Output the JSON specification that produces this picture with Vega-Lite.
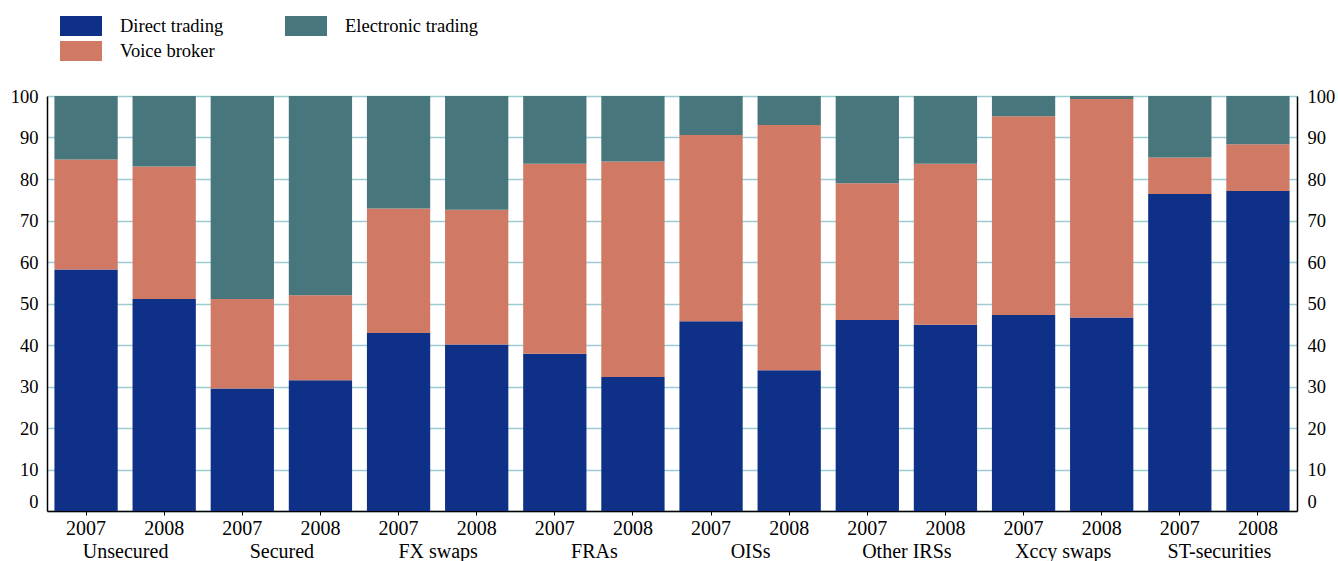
{
  "$schema": "https://vega.github.io/schema/vega-lite/v6.json",
  "width": 1250,
  "height": 415,
  "autosize": {"type": "none"},
  "padding": {"left": 47, "top": 96, "right": 41, "bottom": 50},
  "background": "white",
  "config": {
    "view": {"stroke": null},
    "font": "Liberation Serif",
    "axis": {"labelFont": "Liberation Serif", "labelColor": "black", "titleFont": "Liberation Serif"},
    "legend": {"labelFont": "Liberation Serif", "labelColor": "black"}
  },
  "data": {
    "values": [
      {"g": "Unsecured", "bar": "Unsecured 2007", "t": "Direct trading", "v": 58.2},
      {"g": "Unsecured", "bar": "Unsecured 2007", "t": "Voice broker", "v": 26.5},
      {"g": "Unsecured", "bar": "Unsecured 2007", "t": "Electronic trading", "v": 15.3},
      {"g": "Unsecured", "bar": "Unsecured 2008", "t": "Direct trading", "v": 51.1},
      {"g": "Unsecured", "bar": "Unsecured 2008", "t": "Voice broker", "v": 31.9},
      {"g": "Unsecured", "bar": "Unsecured 2008", "t": "Electronic trading", "v": 17.0},
      {"g": "Secured", "bar": "Secured 2007", "t": "Direct trading", "v": 29.5},
      {"g": "Secured", "bar": "Secured 2007", "t": "Voice broker", "v": 21.6},
      {"g": "Secured", "bar": "Secured 2007", "t": "Electronic trading", "v": 48.9},
      {"g": "Secured", "bar": "Secured 2008", "t": "Direct trading", "v": 31.5},
      {"g": "Secured", "bar": "Secured 2008", "t": "Voice broker", "v": 20.5},
      {"g": "Secured", "bar": "Secured 2008", "t": "Electronic trading", "v": 48.0},
      {"g": "FX swaps", "bar": "FX swaps 2007", "t": "Direct trading", "v": 42.9},
      {"g": "FX swaps", "bar": "FX swaps 2007", "t": "Voice broker", "v": 30.0},
      {"g": "FX swaps", "bar": "FX swaps 2007", "t": "Electronic trading", "v": 27.1},
      {"g": "FX swaps", "bar": "FX swaps 2008", "t": "Direct trading", "v": 40.1},
      {"g": "FX swaps", "bar": "FX swaps 2008", "t": "Voice broker", "v": 32.5},
      {"g": "FX swaps", "bar": "FX swaps 2008", "t": "Electronic trading", "v": 27.4},
      {"g": "FRAs", "bar": "FRAs 2007", "t": "Direct trading", "v": 37.9},
      {"g": "FRAs", "bar": "FRAs 2007", "t": "Voice broker", "v": 45.8},
      {"g": "FRAs", "bar": "FRAs 2007", "t": "Electronic trading", "v": 16.3},
      {"g": "FRAs", "bar": "FRAs 2008", "t": "Direct trading", "v": 32.3},
      {"g": "FRAs", "bar": "FRAs 2008", "t": "Voice broker", "v": 51.9},
      {"g": "FRAs", "bar": "FRAs 2008", "t": "Electronic trading", "v": 15.8},
      {"g": "OISs", "bar": "OISs 2007", "t": "Direct trading", "v": 45.7},
      {"g": "OISs", "bar": "OISs 2007", "t": "Voice broker", "v": 44.9},
      {"g": "OISs", "bar": "OISs 2007", "t": "Electronic trading", "v": 9.4},
      {"g": "OISs", "bar": "OISs 2008", "t": "Direct trading", "v": 33.9},
      {"g": "OISs", "bar": "OISs 2008", "t": "Voice broker", "v": 59.1},
      {"g": "OISs", "bar": "OISs 2008", "t": "Electronic trading", "v": 7.0},
      {"g": "Other IRSs", "bar": "Other IRSs 2007", "t": "Direct trading", "v": 46.0},
      {"g": "Other IRSs", "bar": "Other IRSs 2007", "t": "Voice broker", "v": 33.0},
      {"g": "Other IRSs", "bar": "Other IRSs 2007", "t": "Electronic trading", "v": 21.0},
      {"g": "Other IRSs", "bar": "Other IRSs 2008", "t": "Direct trading", "v": 44.9},
      {"g": "Other IRSs", "bar": "Other IRSs 2008", "t": "Voice broker", "v": 38.8},
      {"g": "Other IRSs", "bar": "Other IRSs 2008", "t": "Electronic trading", "v": 16.3},
      {"g": "Xccy swaps", "bar": "Xccy swaps 2007", "t": "Direct trading", "v": 47.2},
      {"g": "Xccy swaps", "bar": "Xccy swaps 2007", "t": "Voice broker", "v": 47.9},
      {"g": "Xccy swaps", "bar": "Xccy swaps 2007", "t": "Electronic trading", "v": 4.9},
      {"g": "Xccy swaps", "bar": "Xccy swaps 2008", "t": "Direct trading", "v": 46.6},
      {"g": "Xccy swaps", "bar": "Xccy swaps 2008", "t": "Voice broker", "v": 52.7},
      {"g": "Xccy swaps", "bar": "Xccy swaps 2008", "t": "Electronic trading", "v": 0.7},
      {"g": "ST-securities", "bar": "ST-securities 2007", "t": "Direct trading", "v": 76.4},
      {"g": "ST-securities", "bar": "ST-securities 2007", "t": "Voice broker", "v": 8.8},
      {"g": "ST-securities", "bar": "ST-securities 2007", "t": "Electronic trading", "v": 14.8},
      {"g": "ST-securities", "bar": "ST-securities 2008", "t": "Direct trading", "v": 77.1},
      {"g": "ST-securities", "bar": "ST-securities 2008", "t": "Voice broker", "v": 11.3},
      {"g": "ST-securities", "bar": "ST-securities 2008", "t": "Electronic trading", "v": 11.6}
    ]
  },
  "layer": [
    {
      "transform": [
        {"calculate": "indexof(['Direct trading','Voice broker','Electronic trading'], datum.t)", "as": "o"}
      ],
      "mark": {"type": "bar"},
      "encoding": {
        "x": {
          "field": "bar", "type": "nominal", "sort": null,
          "scale": {"paddingInner": 0.19, "paddingOuter": 0.095},
          "axis": {
            "title": null, "labelAngle": 0, "labelExpr": "slice(datum.label, -4)",
            "labelFontSize": 20, "labelPadding": 3, "tickSize": 4, "tickColor": "black",
            "tickWidth": 1, "domainColor": "black", "domainWidth": 1.5, "grid": false
          }
        },
        "y": {
          "field": "v", "type": "quantitative", "stack": "zero",
          "scale": {"domain": [0, 100], "nice": false},
          "axis": {
            "orient": "left", "title": null, "values": [0, 10, 20, 30, 40, 50, 60, 70, 80, 90, 100],
            "grid": true, "gridColor": "#9ccbd2", "gridWidth": 1.3, "tickSize": 0,
            "labelPadding": 9, "labelFontSize": 18.5, "domainColor": "black", "domainWidth": 1.5,
            "labelBaseline": {"condition": {"test": "datum.value === 0", "value": "bottom"}, "value": "middle"}
          }
        },
        "color": {
          "field": "t", "type": "nominal",
          "scale": {
            "domain": ["Direct trading", "Voice broker", "Electronic trading"],
            "range": ["#0f3087", "#d07a66", "#48767d"]
          },
          "legend": {
            "orient": "none", "legendX": 24, "legendY": -80, "title": null, "columns": 2,
            "symbolType": "M-2.1,-1H2.1V1H-2.1Z", "symbolSize": 400, "symbolStrokeWidth": 0,
            "symbolOpacity": 1, "labelFontSize": 18.5, "labelOffset": 29,
            "columnPadding": 61, "rowPadding": 5, "padding": 0
          }
        },
        "order": {"field": "o", "type": "quantitative"}
      }
    },
    {
      "mark": {"type": "text", "text": ""},
      "encoding": {
        "x": {
          "field": "g", "type": "nominal", "sort": null,
          "scale": {"paddingInner": 0, "paddingOuter": 0},
          "axis": {
            "title": null, "orient": "bottom", "offset": 30, "domain": false, "ticks": false,
            "labelFontSize": 20, "labelPadding": 0, "labelAngle": 0, "grid": false
          }
        }
      }
    },
    {
      "mark": {"type": "bar", "opacity": 0},
      "encoding": {
        "x": {
          "field": "bar", "type": "nominal", "sort": null,
          "scale": {"paddingInner": 0.19, "paddingOuter": 0.095},
          "axis": null
        },
        "y": {
          "field": "v", "type": "quantitative", "stack": null,
          "axis": {
            "orient": "right", "title": null, "values": [0, 10, 20, 30, 40, 50, 60, 70, 80, 90, 100],
            "grid": false, "tickSize": 0, "labelPadding": 10, "labelFontSize": 18.5,
            "domainColor": "black", "domainWidth": 1.5,
            "labelBaseline": {"condition": {"test": "datum.value === 0", "value": "bottom"}, "value": "middle"}
          }
        }
      }
    }
  ],
  "resolve": {
    "scale": {"x": "independent"},
    "axis": {"x": "independent", "y": "independent"}
  }
}
